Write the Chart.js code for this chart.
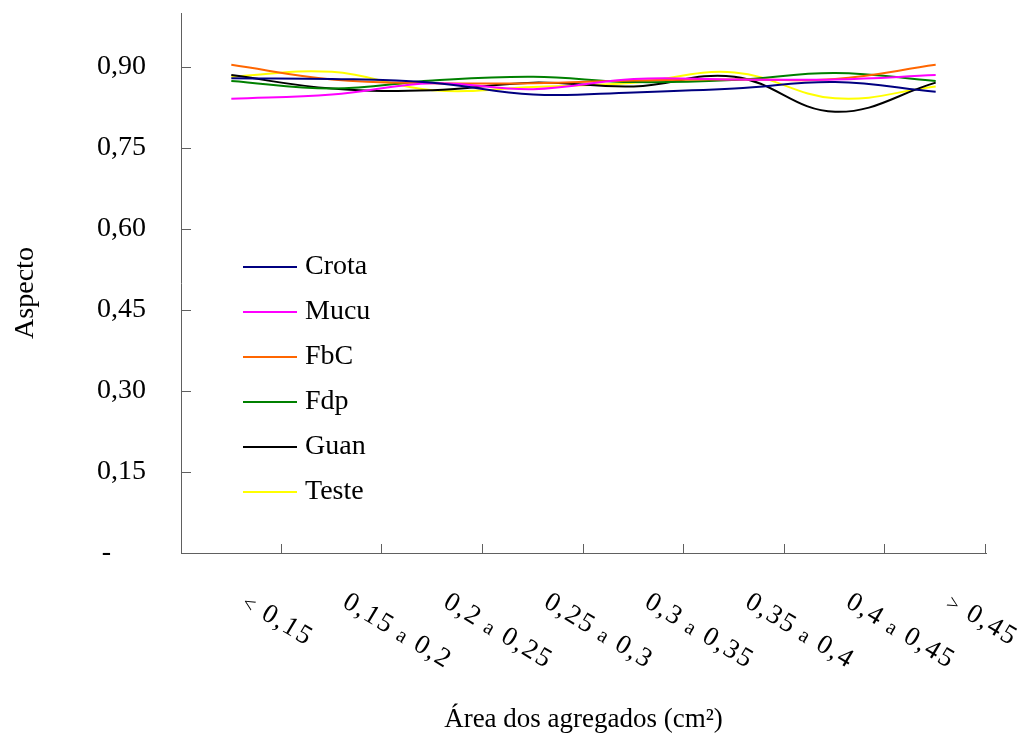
<!DOCTYPE html>
<html>
<head>
<meta charset="utf-8">
<script src="https://cdn.jsdelivr.net/npm/chart.js@4/dist/chart.umd.min.js"></script>
<style>
  html, body { margin: 0; padding: 0; background: #fff; }
  #wrap { width: 1027px; height: 754px; }
</style>
</head>
<body>
<div id="wrap"><canvas id="c" width="1027" height="754"></canvas></div>
<script>
// Aggregate area classes (cm²)
const categories = ['< 0,15', '0,15 a 0,2', '0,2 a 0,25', '0,25 a 0,3', '0,3 a 0,35', '0,35 a 0,4', '0,4 a 0,45', '> 0,45'];

// Aspect ratio per treatment
const crota = [0.879, 0.878, 0.871, 0.849, 0.853, 0.860, 0.872, 0.854];
const mucu  = [0.841, 0.849, 0.870, 0.859, 0.878, 0.877, 0.877, 0.885];
const fbc   = [0.904, 0.877, 0.870, 0.870, 0.875, 0.877, 0.878, 0.904];
const fdp   = [0.874, 0.860, 0.875, 0.882, 0.872, 0.876, 0.889, 0.874];
const guan  = [0.885, 0.860, 0.857, 0.871, 0.864, 0.882, 0.817, 0.871];
const teste = [0.882, 0.891, 0.857, 0.863, 0.871, 0.890, 0.842, 0.864];

const seriesNames = ['Crota', 'Mucu', 'FbC', 'Fdp', 'Guan', 'Teste'];
const seriesColors = ['#000080', '#FF00FF', '#FF6600', '#008000', '#000000', '#FFFF00'];

// Y axis tick values and their labels
const yTicks = [0, 0.15, 0.30, 0.45, 0.60, 0.75, 0.90];
const yTickLabels = ['-     ', '0,15', '0,30', '0,45', '0,60', '0,75', '0,90'];

const SERIF = '"Liberation Serif", "Times New Roman", serif';
const AXIS_COLOR = '#606060';
const TEXT_SIZE = 28;

const seriesData = [crota, mucu, fbc, fdp, guan, teste];

// Inward tick marks, slanted category labels and the inner legend
const decorations = {
  id: 'decorations',
  afterDraw(chart) {
    const ctx = chart.ctx;
    const xs = chart.scales.x, ys = chart.scales.y;
    const area = chart.chartArea;
    ctx.save();
    ctx.strokeStyle = AXIS_COLOR;
    ctx.lineWidth = 1;
    // y ticks pointing into the plot
    yTicks.forEach(v => {
      const y = Math.round(ys.getPixelForValue(v)) + 0.5;
      ctx.beginPath();
      ctx.moveTo(area.left, y);
      ctx.lineTo(area.left + 10, y);
      ctx.stroke();
    });
    // x ticks at category boundaries, pointing up
    const w = (area.right - area.left) / categories.length;
    for (let i = 1; i <= categories.length; i++) {
      const x = Math.round(area.left + i * w) - 0.5;
      ctx.beginPath();
      ctx.moveTo(x, area.bottom);
      ctx.lineTo(x, area.bottom - 9);
      ctx.stroke();
    }
    // slanted category labels
    ctx.fillStyle = '#000';
    ctx.textBaseline = 'middle';
    ctx.textAlign = 'left';
    try { ctx.letterSpacing = '2px'; } catch (e) {}
    const angle = 31 * Math.PI / 180;
    categories.forEach((lab, i) => {
      const cx = xs.getPixelForValue(i);
      ctx.save();
      ctx.translate(cx + 13, area.bottom + 47);
      ctx.rotate(angle);
      let pos = 0;
      lab.split(' ').forEach((tok, k) => {
        const small = (tok === 'a' || tok === '<' || tok === '>');
        const txt = (k > 0 ? ' ' : '') + tok;
        ctx.font = (small ? '21px ' : '27px ') + SERIF;
        ctx.fillText(txt, pos, small ? 2 : 0);
        pos += ctx.measureText(txt).width;
      });
      ctx.restore();
    });
    try { ctx.letterSpacing = '0px'; } catch (e) {}
    // legend
    ctx.font = TEXT_SIZE + 'px ' + SERIF;
    chart.data.datasets.forEach((ds, i) => {
      const y = area.top + 254 + i * 45;
      ctx.strokeStyle = ds.borderColor;
      ctx.lineWidth = 2;
      ctx.beginPath();
      ctx.moveTo(area.left + 62, y);
      ctx.lineTo(area.left + 116, y);
      ctx.stroke();
      ctx.fillStyle = '#000';
      ctx.fillText(ds.label, area.left + 124, y);
    });
    // vertical axis title
    ctx.save();
    ctx.translate(26, (area.top + area.bottom) / 2 + 10);
    ctx.rotate(-Math.PI / 2);
    ctx.textAlign = 'center';
    ctx.fillText('Aspecto', 0, 0);
    ctx.restore();
    ctx.restore();
  }
};

new Chart(document.getElementById('c'), {
  type: 'line',
  data: {
    labels: categories,
    datasets: seriesNames.map((name, i) => ({
      label: name,
      data: seriesData[i],
      borderColor: seriesColors[i],
      backgroundColor: seriesColors[i],
      borderWidth: 2,
      pointRadius: 0,
      tension: 0.4,
      fill: false
    }))
  },
  options: {
    responsive: false,
    animation: false,
    layout: { padding: { left: 0, top: 13, right: 41, bottom: 0 } },
    plugins: { legend: { display: false }, tooltip: { enabled: false } },
    scales: {
      x: {
        type: 'category',
        offset: true,
        grid: { display: false, drawTicks: false },
        border: { display: true, color: AXIS_COLOR, width: 1 },
        ticks: { display: false },
        title: {
          display: true,
          text: 'Área dos agregados (cm²)',
          color: '#000',
          font: { family: SERIF, size: 27 },
          padding: { top: 0, bottom: 18 }
        },
        afterFit(scale) { scale.height = 201; }
      },
      y: {
        min: 0,
        max: 1.0,
        grid: {
          display: true,
          drawOnChartArea: false,
          drawTicks: true,
          tickLength: 35,
          tickColor: 'rgba(0,0,0,0)'
        },
        border: { display: true, color: AXIS_COLOR, width: 1 },
        afterBuildTicks(scale) { scale.ticks = yTicks.map(v => ({ value: v })); },
        ticks: {
          padding: 0,
          color: '#000',
          font: { family: SERIF, size: TEXT_SIZE, lineHeight: 0.85 },
          callback(value) {
            const idx = yTicks.findIndex(t => Math.abs(t - value) < 1e-9);
            return idx >= 0 ? yTickLabels[idx] : '';
          }
        },
        title: { display: false },
        afterFit(scale) { scale.width = 181; }
      }
    }
  },
  plugins: [decorations]
});
</script>
</body>
</html>
